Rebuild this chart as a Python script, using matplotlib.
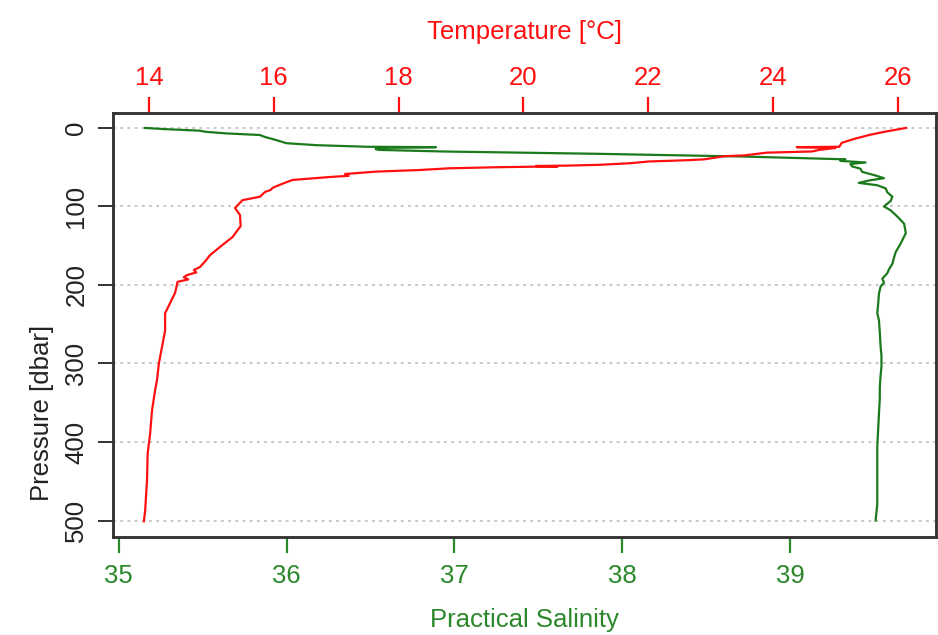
import matplotlib
matplotlib.use("Agg")
import matplotlib.pyplot as plt

plt.rcParams['font.family'] = ['Liberation Sans', 'DejaVu Sans']

# CTD profile: pressure [dbar] vs temperature [degC]
temp_pressure = [0, 5, 9, 14, 19, 24, 24.5, 25.5, 28, 30, 31.5, 35, 36, 40, 41, 42, 42.7,
                 45, 47, 48, 48.5, 49, 50, 51.4, 53.6, 55.7, 58.7, 61, 62.5, 66.3, 71.4,
                 74, 76.5, 79, 81.6, 87.6, 92, 102, 111, 125, 139, 149, 162, 170, 177,
                 181, 184, 187.5, 190, 193, 196, 210, 223, 236, 258, 279, 300, 321, 334,
                 360, 389, 415, 449, 487, 501]
temperature = [26.13, 25.78, 25.54, 25.30, 25.10, 25.06, 24.38, 25.00, 24.74, 24.62, 23.90,
               23.54, 23.22, 22.90, 22.66, 22.30, 22.02, 21.70, 21.22, 20.70, 20.20, 20.55,
               19.62, 18.82, 18.34, 17.63, 17.14, 17.20, 16.90, 16.30, 16.13, 16.05, 15.98,
               15.95, 15.86, 15.78, 15.50, 15.38, 15.46, 15.47, 15.34, 15.18, 14.98, 14.90,
               14.82, 14.72, 14.76, 14.61, 14.56, 14.63, 14.46, 14.42, 14.34, 14.26, 14.26,
               14.21, 14.16, 14.13, 14.10, 14.05, 14.02, 13.98, 13.97, 13.94, 13.92]

# CTD profile: pressure [dbar] vs practical salinity
sal_pressure = [0, 1.5, 3.5, 5, 7, 9, 11.5, 15, 19.5, 22, 24, 24.5, 25.5, 27, 28, 30, 33,
                36.5, 40, 42, 44, 46, 49, 52, 56, 60, 64, 67, 70, 73, 77, 82, 87.6, 93,
                100, 105, 113, 122, 134, 147, 158, 165, 173, 180, 185, 192, 197, 202, 211,
                225, 236, 245, 260, 279, 290, 304, 315, 330, 345, 364, 385, 406, 440, 479,
                490, 500]
salinity = [35.155, 35.27, 35.48, 35.52, 35.64, 35.84, 35.87, 35.93, 36.00, 36.18, 36.48,
            36.89, 36.54, 36.53, 36.55, 36.93, 37.86, 38.73, 39.33, 39.30, 39.45, 39.36,
            39.37, 39.42, 39.43, 39.50, 39.56, 39.47, 39.41, 39.52, 39.57, 39.58, 39.61,
            39.60, 39.56, 39.60, 39.64, 39.68, 39.69, 39.66, 39.63, 39.62, 39.61, 39.59,
            39.58, 39.55, 39.56, 39.54, 39.53, 39.525, 39.52, 39.53, 39.535, 39.54, 39.545,
            39.545, 39.54, 39.535, 39.535, 39.53, 39.525, 39.52, 39.52, 39.52, 39.515, 39.51]

pressure_ticks = [0, 100, 200, 300, 400, 500]
salinity_ticks = [35, 36, 37, 38, 39]
temperature_ticks = [14, 16, 18, 20, 22, 24, 26]

RED = '#ff1010'
GREEN = '#1b7a1b'
GREEN_TXT = '#2a882a'
FRAME = '#333333'
FS = 18.5

fig = plt.figure(figsize=(9.38, 6.35), dpi=100)
W, H = 938, 635
left, right, top, bottom = 113, 936, 113, 537
ax = fig.add_axes([left / W, 1 - bottom / H, (right - left) / W, (bottom - top) / H])

ax.set_ylim(521, -19)
ax.set_xlim(34.965, 39.87)

for p in pressure_ticks:
    ax.axhline(p, color='#c8c8c8', lw=1.4, dashes=(1.5, 2.2), zorder=1)

ax.plot(salinity, sal_pressure, color=GREEN, lw=1.6, zorder=3)

axt = ax.twiny()
axt.set_xlim(13.425, 26.61)
axt.plot(temperature, temp_pressure, color=RED, lw=1.6, zorder=3)
axt.set_ylim(521, -19)

for a in (ax, axt):
    for s in a.spines.values():
        s.set_color(FRAME)
        s.set_linewidth(1.8)

ax.set_yticks(pressure_ticks)
ax.set_yticklabels([str(p) for p in pressure_ticks], rotation=90, va='center')
ax.tick_params(axis='y', length=10.8, width=1.4, color=FRAME, labelsize=FS, pad=7,
               labelcolor='#222222')

ax.set_xticks(salinity_ticks)
ax.set_xticklabels([str(s) for s in salinity_ticks])
ax.tick_params(axis='x', length=11.5, width=1.6, color=GREEN_TXT, labelsize=FS, pad=8,
               labelcolor=GREEN_TXT)

axt.set_xticks(temperature_ticks)
axt.set_xticklabels([str(t) for t in temperature_ticks])
axt.tick_params(axis='x', length=11.5, width=1.6, color=RED, labelsize=FS, pad=5,
                labelcolor=RED)

cx = (left + right) / 2 / W
fig.text(cx, 1 - 38.5 / H, 'Temperature [°C]', color=RED, fontsize=FS,
         ha='center', va='baseline')
fig.text(cx, 1 - 627 / H, 'Practical Salinity', color=GREEN_TXT, fontsize=FS,
         ha='center', va='baseline')
fig.text(42 / W, 1 - (top + bottom) / 2 / H, 'Pressure [dbar]', color='#222222',
         fontsize=FS, rotation=90, ha='right', va='center', rotation_mode='anchor')

fig.savefig('out.png', dpi=100)
